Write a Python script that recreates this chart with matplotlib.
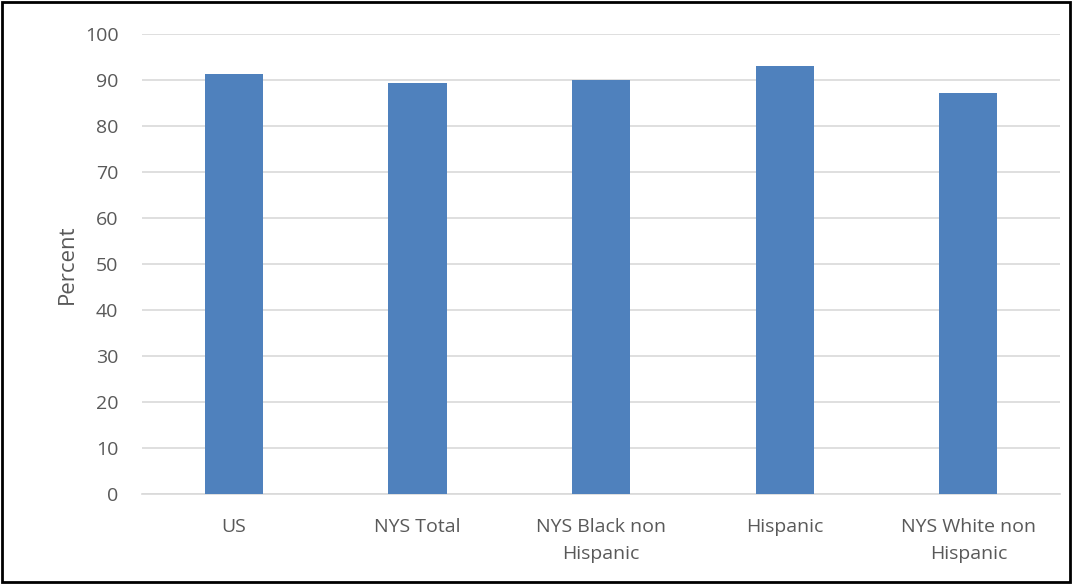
import matplotlib.pyplot as plt
from matplotlib.patches import Rectangle

categories = ["US", "NYS Total", "NYS Black non\nHispanic", "Hispanic", "NYS White non\nHispanic"]
percent = [91.2, 89.3, 90.1, 93.1, 87.2]
yticks = list(range(0, 101, 10))

plt.rcParams['font.family'] = ['Open Sans', 'DejaVu Sans']
text_color = '#595959'

fig = plt.figure(figsize=(10.72, 5.84), dpi=100)
ax = fig.add_axes([0.1325, 0.154, 0.8565, 0.7878])

x = range(len(categories))
ax.bar(x, percent, width=0.316, color='#4f81bd', zorder=3)

ax.set_ylim(0, 100)
ax.set_xlim(-0.5, len(categories) - 0.5)
ax.set_yticks(yticks)
ax.set_xticks(list(x))
ax.set_xticklabels(categories, fontsize=14, color=text_color, linespacing=1.65)
ax.tick_params(axis='y', labelsize=14, labelcolor=text_color, length=0, pad=17)
ax.tick_params(axis='x', length=0, pad=17)

ax.grid(axis='y', color='#d9d9d9', linewidth=1.2, zorder=0)
for s in ['top', 'right', 'left']:
    ax.spines[s].set_visible(False)
ax.spines['bottom'].set_color('#d9d9d9')
ax.spines['bottom'].set_linewidth(1.2)

ax.set_ylabel("Percent", fontsize=16, color=text_color, labelpad=5)

# black frame round the whole picture
fig.patches.append(Rectangle((0.002, 0.003), 0.996, 0.994, transform=fig.transFigure,
                             fill=False, edgecolor='black', linewidth=2))

fig.savefig("out.png", dpi=100)
